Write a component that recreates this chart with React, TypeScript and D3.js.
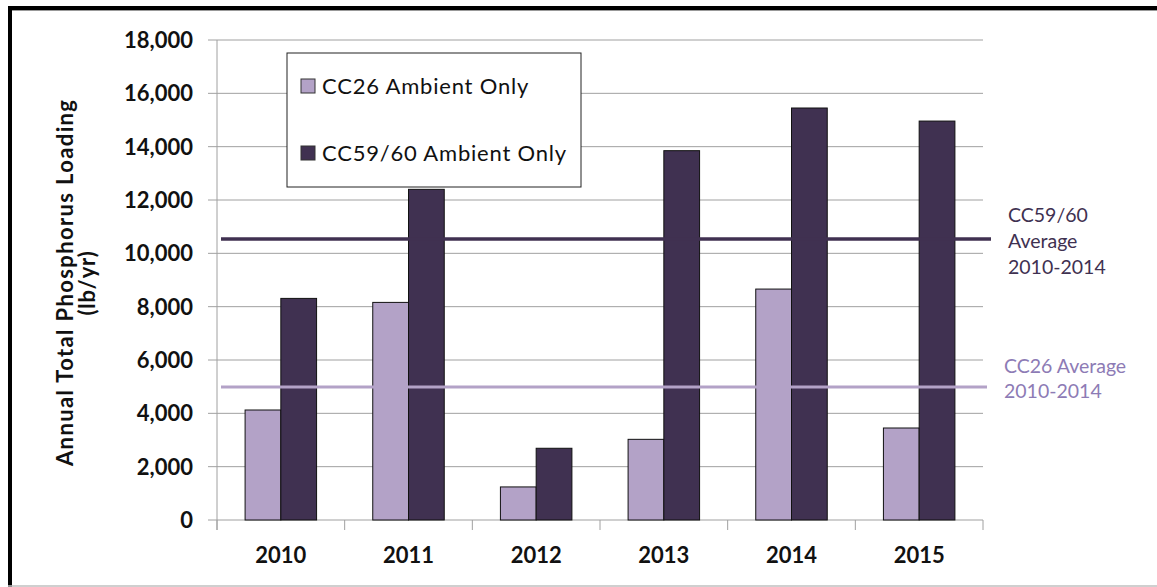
import { useMemo } from 'react';
import * as d3 from 'd3';

// chart data
const years = ['2010', '2011', '2012', '2013', '2014', '2015'];
const cc26Values = [4125, 8160, 1240, 3025, 8660, 3450];
const cc5960Values = [8310, 12400, 2690, 13850, 15450, 14960];
const seriesNames = ['CC26 Ambient Only', 'CC59/60 Ambient Only'];
const yTicks = [0, 2000, 4000, 6000, 8000, 10000, 12000, 14000, 16000, 18000];
const cc26Average = 4990;
const cc5960Average = 10540;
const cc26AvgLabel = ['CC26 Average', '2010-2014'];
const cc5960AvgLabel = ['CC59/60', 'Average', '2010-2014'];

const LIGHT = '#b3a2c7';
const DARK = '#403151';
const FONT = 'Lato, "Open Sans", sans-serif';

export default function App() {
  const width = 1157;
  const height = 587;
  const plot = { left: 217, right: 983, top: 40, bottom: 520 };

  const yScale = useMemo(
    () => d3.scaleLinear().domain([0, 18000]).range([plot.bottom, plot.top]),
    [],
  );
  const xScale = useMemo(
    () => d3.scaleBand().domain(years).range([plot.left, plot.right]).padding(0),
    [],
  );
  const bw = xScale.bandwidth();
  // two bars per year, with a gap of ~22% of the category on each side
  const inner = d3.scaleBand().domain(['a', 'b']).range([bw * 0.22, bw * 0.78]).padding(0);

  const fmt = d3.format(',');
  const boundaries = [...years.map((y) => xScale(y) as number), plot.right];

  return (
    <svg
      width={width}
      height={height}
      style={{ position: 'absolute', left: 0, top: 0, background: '#fff' }}
      fontFamily={FONT}
    >
      {/* outer frame */}
      <line x1={8} x2={width} y1={8} y2={8} stroke="#000" strokeWidth={4} />
      <line x1={8} x2={width} y1={10.5} y2={10.5} stroke="#999" strokeWidth={1} />
      <line x1={10} x2={10} y1={6} y2={height} stroke="#000" strokeWidth={4} />
      <line x1={8} x2={width} y1={586} y2={586} stroke="#bfbfbf" strokeWidth={1.5} />

      {/* gridlines + y ticks */}
      {yTicks.map((t) => (
        <g key={t}>
          <line x1={208} x2={plot.right} y1={yScale(t)} y2={yScale(t)} stroke="#a0a0a0" strokeWidth={1} />
          <text
            x={193}
            y={yScale(t)}
            dy="0.36em"
            textAnchor="end"
            fontSize={22}
            fontWeight="bold"
            fill="#111"
          >
            {fmt(t)}
          </text>
        </g>
      ))}
      {/* y axis line */}
      <line x1={plot.left} x2={plot.left} y1={plot.top} y2={plot.bottom + 10} stroke="#a0a0a0" />
      {/* x axis category tick marks */}
      {boundaries.map((b, i) => (
        <line key={i} x1={b} x2={b} y1={plot.bottom} y2={plot.bottom + 10} stroke="#a0a0a0" />
      ))}

      {/* bars */}
      {years.map((yr, i) => {
        const x0 = xScale(yr) as number;
        return (
          <g key={yr}>
            <rect
              x={x0 + (inner('a') as number)}
              y={yScale(cc26Values[i])}
              width={inner.bandwidth()}
              height={yScale(0) - yScale(cc26Values[i])}
              fill={LIGHT}
              stroke="#111"
              strokeWidth={1}
            />
            <rect
              x={x0 + (inner('b') as number)}
              y={yScale(cc5960Values[i])}
              width={inner.bandwidth()}
              height={yScale(0) - yScale(cc5960Values[i])}
              fill={DARK}
              stroke="#111"
              strokeWidth={1}
            />
          </g>
        );
      })}

      {/* average lines */}
      <line
        x1={221}
        x2={991}
        y1={yScale(cc5960Average)}
        y2={yScale(cc5960Average)}
        stroke={DARK}
        strokeWidth={3.5}
      />
      <line
        x1={221}
        x2={987}
        y1={yScale(cc26Average)}
        y2={yScale(cc26Average)}
        stroke={LIGHT}
        strokeWidth={3}
      />

      {/* x labels */}
      {years.map((yr) => (
        <text
          key={yr}
          x={(xScale(yr) as number) + bw / 2}
          y={563}
          textAnchor="middle"
          fontSize={22}
          fontWeight="bold"
          fill="#111"
        >
          {yr}
        </text>
      ))}

      {/* y axis title */}
      <text
        transform="translate(73,283) rotate(-90)"
        textAnchor="middle"
        fontSize={22}
        fontWeight="bold"
        fill="#111"
        textLength={366}
        lengthAdjust="spacing"
      >
        Annual Total Phosphorus Loading
      </text>
      <text
        transform="translate(95,283) rotate(-90)"
        textAnchor="middle"
        fontSize={22}
        fontWeight="bold"
        fill="#111"
        letterSpacing={0.8}
      >
        (lb/yr)
      </text>

      {/* legend */}
      <rect x={287} y={53} width={294} height={134} fill="#fff" stroke="#222" strokeWidth={1} />
      {seriesNames.map((name, i) => (
        <g key={name}>
          <rect
            x={301}
            y={79 + i * 67}
            width={14}
            height={14}
            fill={i === 0 ? LIGHT : DARK}
            stroke="#333"
            strokeWidth={1}
          />
          <text x={322} y={94 + i * 67} fontSize={22} fill="#111" letterSpacing={0.8}>
            {name}
          </text>
        </g>
      ))}

      {/* average annotations */}
      {cc5960AvgLabel.map((t, i) => (
        <text key={t} x={1008} y={222 + i * 26} fontSize={19.5} fill="#3f3151">
          {t}
        </text>
      ))}
      {cc26AvgLabel.map((t, i) => (
        <text key={t} x={1004} y={373 + i * 25} fontSize={19.5} fill="#8d7bb5">
          {t}
        </text>
      ))}
    </svg>
  );
}
